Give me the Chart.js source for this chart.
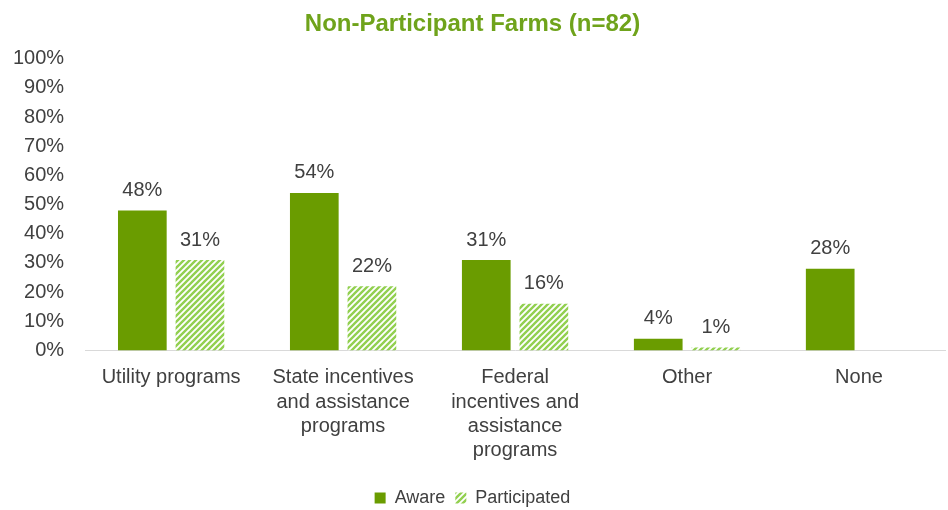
<!DOCTYPE html>
<html>
<head>
<meta charset="utf-8">
<script src="https://cdn.jsdelivr.net/npm/chart.js@4"></script>
<style>
  body { margin: 0; background: #fff; }
  #wrap { width: 948px; height: 510px; }
</style>
</head>
<body>
<div id="wrap"><canvas id="farmChart"></canvas></div>
<script>
const categories = [
    "Utility programs",
    ["State incentives", "and assistance", "programs"],
    ["Federal", "incentives and", "assistance", "programs"],
    "Other",
    "None"
];
const awareValues = [48, 54, 31, 4, 28];
const participatedValues = [31, 22, 16, 1, null];
const tickLabels = ["0%", "10%", "20%", "30%", "40%", "50%", "60%", "70%", "80%", "90%", "100%"];

const FONT = "'Liberation Sans', Arial, sans-serif";

function hatchPattern() {
    const c = document.createElement("canvas");
    c.width = 6;
    c.height = 6;
    const g = c.getContext("2d");
    g.fillStyle = "#ffffff";
    g.fillRect(0, 0, 6, 6);
    g.strokeStyle = "#92d050";
    g.lineWidth = 2.4;
    g.beginPath();
    g.moveTo(-1, 7); g.lineTo(7, -1);
    g.moveTo(-4, 4); g.lineTo(4, -4);
    g.moveTo(2, 10); g.lineTo(10, 2);
    g.stroke();
    return g.createPattern(c, "repeat");
}

// draws the % labels on top of each bar
const barLabels = {
    id: "barLabels",
    afterDatasetsDraw(chart) {
        const ctx = chart.ctx;
        ctx.save();
        ctx.font = "20px " + FONT;
        ctx.fillStyle = "#404040";
        ctx.textAlign = "center";
        ctx.textBaseline = "bottom";
        chart.data.datasets.forEach((ds, i) => {
            chart.getDatasetMeta(i).data.forEach((bar, j) => {
                if (ds.data[j] === null) return;
                ctx.fillText(ds.data[j] + "%", bar.x, bar.y - 10);
            });
        });
        ctx.restore();
    }
};

document.addEventListener("DOMContentLoaded", function () {
    let ctx = document.getElementById("farmChart").getContext("2d");

    new Chart(ctx, {
        type: "bar",
        data: {
            labels: categories,
            datasets: [
                {
                    label: "Aware",
                    data: awareValues,
                    backgroundColor: "#6a9c00",
                    barPercentage: 0.845,
                    categoryPercentage: 0.67
                },
                {
                    label: "Participated",
                    data: participatedValues,
                    backgroundColor: hatchPattern(),
                    barPercentage: 0.845,
                    categoryPercentage: 0.67
                }
            ]
        },
        options: {
            responsive: true,
            maintainAspectRatio: false,
            animation: false,
            layout: { padding: { left: 0, right: 3, top: 0, bottom: -7 } },
            plugins: {
                title: {
                    display: true,
                    text: "Non-Participant Farms (n=82)",
                    color: "#6fa31b",
                    font: { family: FONT, size: 24, weight: "bold" },
                    padding: { top: 10, bottom: 20 }
                },
                legend: {
                    position: "bottom",
                    labels: {
                        color: "#404040",
                        font: { family: FONT, size: 18 },
                        boxWidth: 11,
                        boxHeight: 11,
                        padding: 10
                    }
                },
                tooltip: { enabled: false }
            },
            scales: {
                x: {
                    grid: { display: false },
                    border: { color: "#d9d9d9" },
                    ticks: {
                        color: "#404040",
                        font: { family: FONT, size: 20, lineHeight: 1.22 },
                        maxRotation: 0,
                        padding: 7
                    },
                    afterFit: (scale) => { scale.height += 9; }
                },
                y: {
                    min: 0,
                    max: 100,
                    grid: { display: false },
                    border: { display: false },
                    ticks: {
                        stepSize: 10,
                        padding: 13,
                        color: "#404040",
                        font: { family: FONT, size: 20 },
                        callback: (v) => tickLabels[v / 10]
                    }
                }
            }
        },
        plugins: [barLabels]
    });
});
</script>
</body>
</html>
